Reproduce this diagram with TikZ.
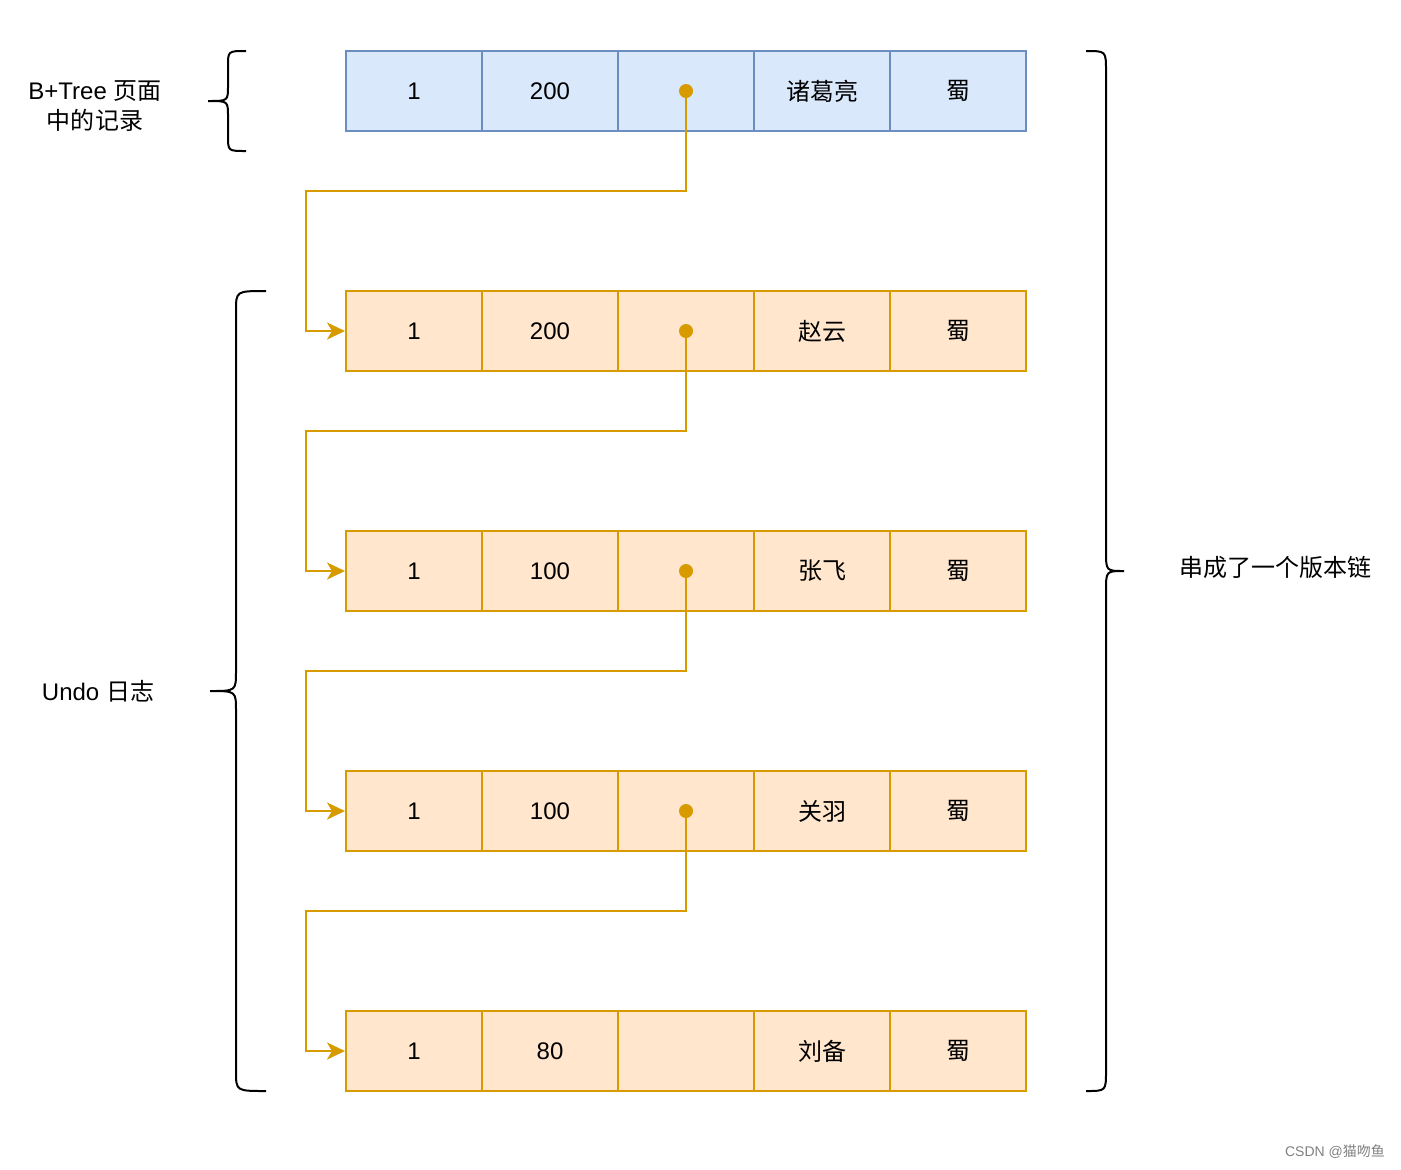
\documentclass[tikz,border=0pt]{standalone}
\usepackage{fontspec}
\setmainfont{Liberation Sans}
\newfontfamily\cjk{Noto Sans CJK SC}
\usetikzlibrary{arrows.meta}
\definecolor{bluefill}{HTML}{DAE8FC}
\definecolor{bluedge}{HTML}{6C8EBF}
\definecolor{orfill}{HTML}{FFE6CC}
\definecolor{oredge}{HTML}{D79B00}
\tikzset{
  cellb/.style={draw=bluedge, fill=bluefill, line width=1pt, minimum width=68pt, minimum height=40pt, inner sep=0pt, font=\fontsize{12}{14}\selectfont},
  cello/.style={cellb, draw=oredge, fill=orfill},
  link/.style={draw=oredge, line width=1pt, -{Stealth[length=9pt,width=8.5pt,inset=2.5pt]}},
  brc/.style={line width=1pt},
  lbl/.style={align=center, font=\fontsize{12}{15}\selectfont},
}
\begin{document}
\begin{tikzpicture}[x=0.5pt, y=-0.5pt]
\useasboundingbox (0,0) rectangle (1401,1169);
% record in the B+Tree page
\node[cellb] (r0-1) at (414,91) {1};
\node[cellb] (r0-2) at (550,91) {200};
\node[cellb] (r0-3) at (686,91) {};
\node[cellb] (r0-4) at (822,91) {\cjk 诸葛亮};
\node[cellb] (r0-5) at (958,91) {\cjk 蜀};
% undo log records
\foreach \r/\y/\b/\n in {1/331/200/赵云, 2/571/100/张飞, 3/811/100/关羽, 4/1051/80/刘备} {
  \node[cello] (r\r-1) at (414,\y) {1};
  \node[cello] (r\r-2) at (550,\y) {\b};
  \node[cello] (r\r-3) at (686,\y) {};
  \node[cello] (r\r-4) at (822,\y) {\cjk \n};
  \node[cello] (r\r-5) at (958,\y) {\cjk 蜀};
}
% roll pointers
\foreach \i/\j/\yk in {0/1/191, 1/2/431, 2/3/671, 3/4/911} {
  \coordinate (k\i) at (306,\yk);
  \draw[link] (r\i-3.center) |- (k\i) |- (r\j-1.west);
  \fill[oredge] (r\i-3.center) circle (3.5pt);
}
% braces
\draw[brc] (246,51) .. controls (228,51) .. (228,66) -- (228,86) .. controls (228,101) .. (208,101) .. controls (228,101) .. (228,116) -- (228,136) .. controls (228,151) .. (246,151); %B+Tree brace
\draw[brc] (266,291) .. controls (236,291) .. (236,311) -- (236,671) .. controls (236,691) .. (210,691) .. controls (236,691) .. (236,711) -- (236,1071) .. controls (236,1091) .. (266,1091); %undo brace
\draw[brc] (1086,51) .. controls (1106,51) .. (1106,71) -- (1106,551) .. controls (1106,571) .. (1124,571) .. controls (1106,571) .. (1106,591) -- (1106,1071) .. controls (1106,1091) .. (1086,1091); %chain brace
% labels
\node[lbl] (bt) at (95,106) {B+Tree {\cjk 页面}\\{\cjk 中的记录}};
\node[lbl] (undo) at (98,691) {Undo {\cjk 日志}};
\node[lbl] (chain) at (1275,567) {\cjk 串成了一个版本链};
\node[text=gray, font=\fontsize{7}{8}\selectfont] (mark) at (1335,1152) {CSDN @{\cjk 猫吻鱼}};
\end{tikzpicture}
\end{document}
